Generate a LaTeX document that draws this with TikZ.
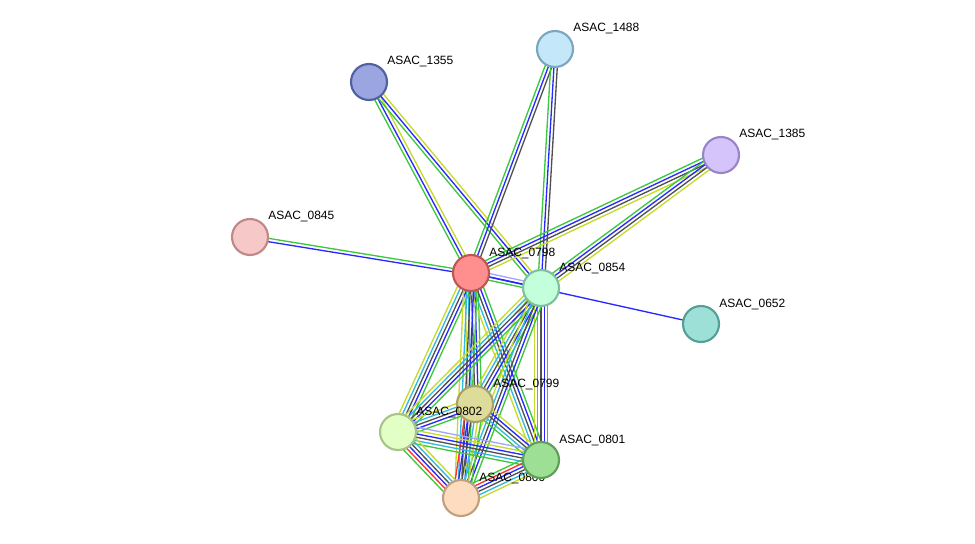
\documentclass[tikz,border=0pt]{standalone}
\usepackage{fontspec}
\setmainfont{Liberation Sans}
\usepackage{tikz}
\usetikzlibrary{calc,backgrounds}
% evidence channel colours
\definecolor{nbh}{HTML}{3CC83C}
\definecolor{fus}{HTML}{FF3030}
\definecolor{cooc}{HTML}{2828FF}
\definecolor{coex}{HTML}{505050}
\definecolor{dbs}{HTML}{30B8E0}
\definecolor{txt}{HTML}{C4DA2C}
\definecolor{hom}{HTML}{A4A4FF}
% node colours
\definecolor{RedFill}{HTML}{FF8F8F}\definecolor{RedLine}{HTML}{C05555}
\definecolor{MintFill}{HTML}{C2FFDA}\definecolor{MintLine}{HTML}{80C09C}
\definecolor{SkyFill}{HTML}{C4E8FA}\definecolor{SkyLine}{HTML}{7AA6C0}
\definecolor{NavyFill}{HTML}{9BA6E0}\definecolor{NavyLine}{HTML}{5060A0}
\definecolor{LilacFill}{HTML}{D5C4FA}\definecolor{LilacLine}{HTML}{9A84C8}
\definecolor{RoseFill}{HTML}{F7C8C8}\definecolor{RoseLine}{HTML}{C08888}
\definecolor{TealFill}{HTML}{9DE0D8}\definecolor{TealLine}{HTML}{55A096}
\definecolor{OliveFill}{HTML}{DEDC9A}\definecolor{OliveLine}{HTML}{A8A068}
\definecolor{LimeFill}{HTML}{E2FFC6}\definecolor{LimeLine}{HTML}{A8C488}
\definecolor{LeafFill}{HTML}{9EDF96}\definecolor{LeafLine}{HTML}{5EA058}
\definecolor{PeachFill}{HTML}{FDDCBF}\definecolor{PeachLine}{HTML}{C0A080}

% one bundle of parallel evidence lines between two proteins
\newcommand{\strlink}[3]{%
    \foreach \lc [count=\k] in {#3} {\xdef\nlines{\k}}%
    \foreach \lc [count=\k] in {#3} {%
        \pgfmathsetmacro{\off}{(\k-(\nlines+1)/2)*2.5}%
        \draw[link, draw=\lc] ($(#1.center)!\off pt!90:(#2.center)$) -- ($(#2.center)!\off pt!-90:(#1.center)$);%
    }%
}

\begin{document}
\begin{tikzpicture}[
        x=0.75pt, y=-0.75pt,
        prot/.style={
                circle,
                line width=1.6pt,
                minimum size=27pt,
                inner sep=0pt
            },
        lbl/.style={anchor=west, inner sep=0pt, font=\fontsize{9}{10}\selectfont},
        link/.style={line width=1pt},
    ]
    \useasboundingbox (0,0) rectangle (975,543);

    \foreach \name/\px/\py/\fc/\bc/\tx in {
            p1488/555/49/SkyFill/SkyLine/ASAC\_1488,
            p1355/369/82/NavyFill/NavyLine/ASAC\_1355,
            p1385/721/155/LilacFill/LilacLine/ASAC\_1385,
            p0845/250/237/RoseFill/RoseLine/ASAC\_0845,
            p0652/701/324/TealFill/TealLine/ASAC\_0652,
            p0798/471/273/RedFill/RedLine/ASAC\_0798,
            p0854/541/288/MintFill/MintLine/ASAC\_0854,
            p0799/475/404/OliveFill/OliveLine/ASAC\_0799,
            p0802/398/432/LimeFill/LimeLine/ASAC\_0802,
            p0800/461/498/PeachFill/PeachLine/ASAC\_0800,
            p0801/541/460/LeafFill/LeafLine/ASAC\_0801} {
        \node[prot, fill=\fc, draw=\bc] (\name) at (\px,\py) {};
        \node[lbl] (\name-lbl) at ([shift={(18,-20)}]\name.center) {\tx};
    }

    \begin{scope}[on background layer]
        % outer partners
        \strlink{p1355}{p0798}{nbh,cooc,txt}
        \strlink{p1355}{p0854}{nbh,cooc,txt}
        \strlink{p1488}{p0798}{nbh,cooc,coex}
        \strlink{p1488}{p0854}{nbh,cooc,coex}
        \strlink{p1385}{p0798}{nbh,cooc,coex,txt}
        \strlink{p1385}{p0854}{nbh,cooc,coex,txt}
        \strlink{p0845}{p0798}{cooc,nbh}
        \strlink{p0798}{p0652}{cooc}
        \strlink{p0798}{p0854}{nbh,cooc,hom}
        % operon cluster
        \strlink{p0798}{p0799}{txt,dbs,coex,cooc,nbh}
        \strlink{p0798}{p0802}{txt,dbs,coex,cooc,nbh}
        \strlink{p0798}{p0801}{txt,dbs,coex,cooc,nbh}
        \strlink{p0798}{p0800}{txt,dbs,coex,cooc,nbh}
        \strlink{p0854}{p0799}{txt,dbs,coex,cooc,nbh}
        \strlink{p0854}{p0802}{txt,dbs,coex,cooc,nbh}
        \strlink{p0854}{p0801}{txt,dbs,coex,cooc,nbh}
        \strlink{p0854}{p0800}{txt,dbs,coex,cooc,nbh}
        \strlink{p0799}{p0802}{txt,dbs,coex,cooc,nbh}
        \strlink{p0799}{p0801}{nbh,dbs,coex,cooc,txt}
        \strlink{p0799}{p0800}{fus,cooc,coex,dbs,txt,nbh}
        \strlink{p0802}{p0801}{nbh,dbs,coex,cooc,txt,hom}
        \strlink{p0802}{p0800}{nbh,fus,cooc,coex,dbs,txt}
        \strlink{p0800}{p0801}{txt,dbs,coex,cooc,fus,nbh}
    \end{scope}

\end{tikzpicture}
\end{document}
